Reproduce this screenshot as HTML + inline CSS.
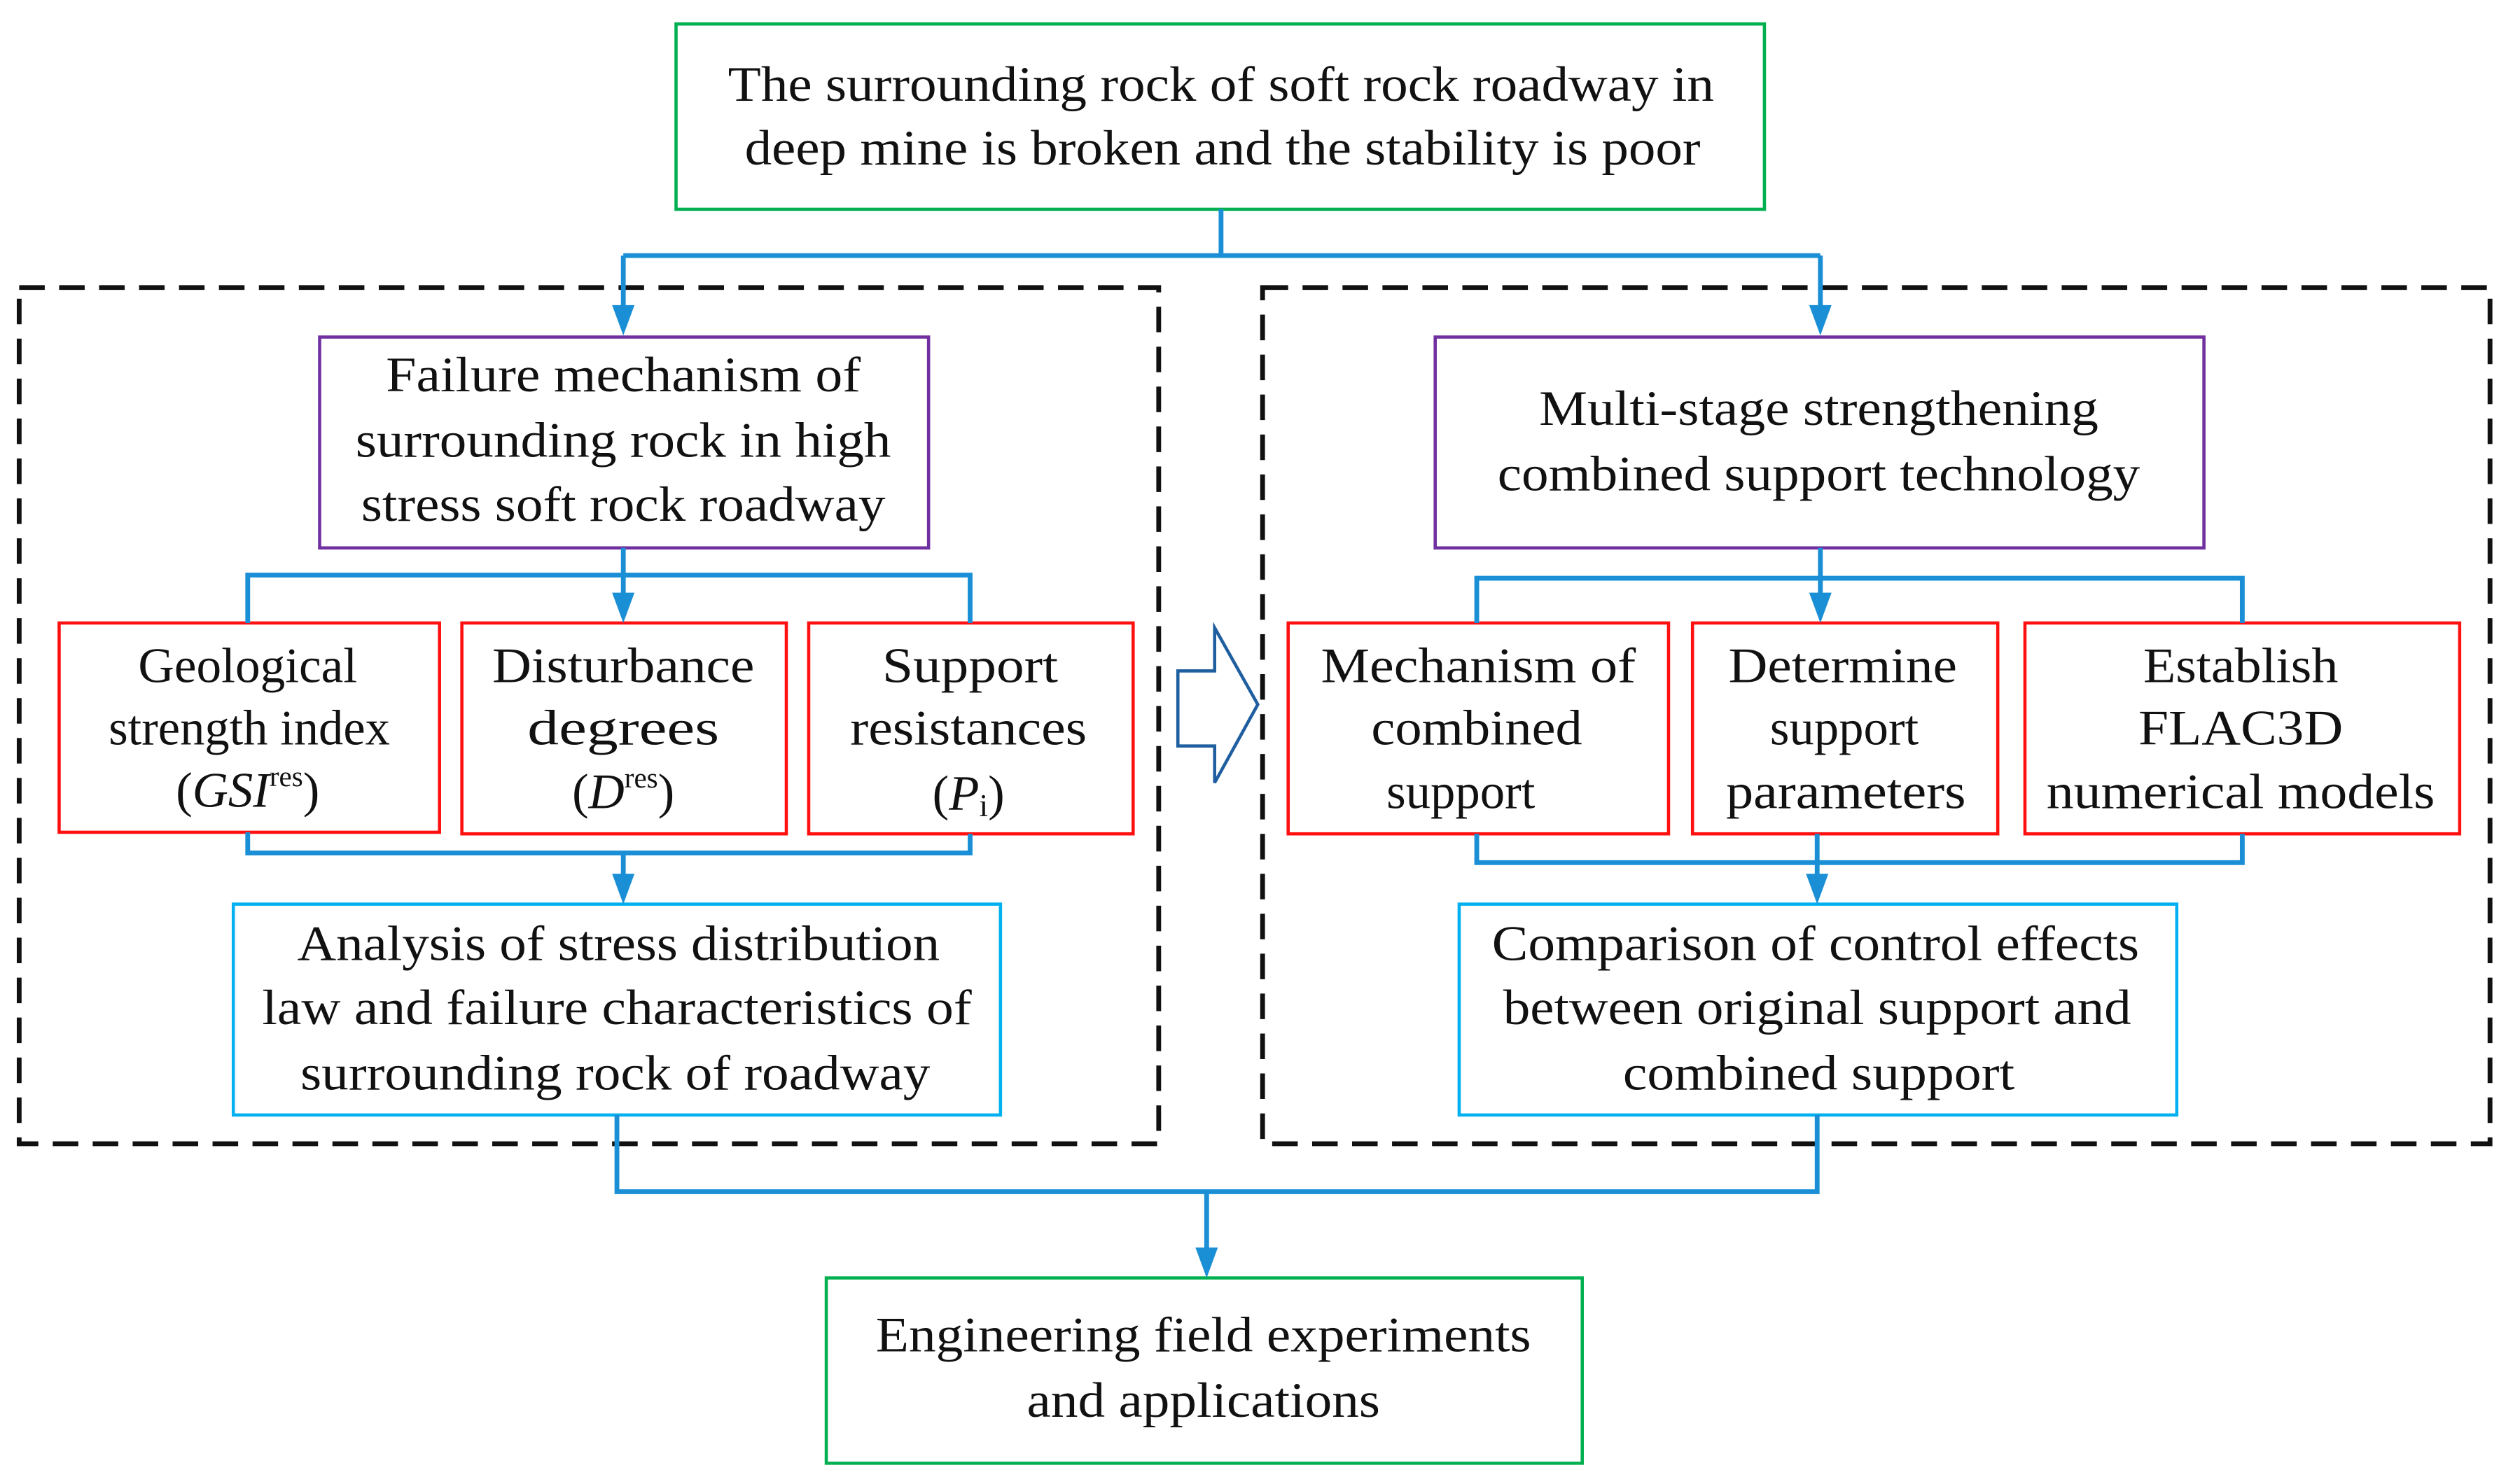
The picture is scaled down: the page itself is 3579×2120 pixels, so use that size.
<!DOCTYPE html>
<html><head><meta charset="utf-8"><style>
html,body{margin:0;padding:0;background:#fff;}
svg{display:block;}
svg text{font-family:"Liberation Serif","Times New Roman",Times,serif;font-size:31px;fill:#111;text-anchor:middle;}
</style></head><body>
<svg width="3579" height="2120" viewBox="0 0 1568 929" preserveAspectRatio="none" xmlns="http://www.w3.org/2000/svg" font-family="Liberation Serif, Times New Roman, serif">
<g fill="none" stroke-width="2">
<rect x="12" y="180" width="713" height="536" stroke="#111" stroke-width="3" stroke-dasharray="16,9"/>
<rect x="790" y="180" width="768" height="536" stroke="#111" stroke-width="3" stroke-dasharray="16,9"/>
<rect x="423" y="15" width="681" height="116" stroke="#00b050"/>
<rect x="200" y="211" width="381" height="132" stroke="#7030a0"/>
<rect x="898" y="211" width="481" height="132" stroke="#7030a0"/>
<rect x="37" y="390" width="238" height="131" stroke="#ff1010"/>
<rect x="289" y="390" width="203" height="132" stroke="#ff1010"/>
<rect x="506" y="390" width="203" height="132" stroke="#ff1010"/>
<rect x="806" y="390" width="238" height="132" stroke="#ff1010"/>
<rect x="1059" y="390" width="191" height="132" stroke="#ff1010"/>
<rect x="1267" y="390" width="272" height="132" stroke="#ff1010"/>
<rect x="146" y="566" width="480" height="132" stroke="#00b0f0"/>
<rect x="913" y="566" width="449" height="132" stroke="#00b0f0"/>
<rect x="517" y="800" width="473" height="116" stroke="#00b050"/>
<g stroke="#1a8fd6" stroke-width="3">
<path d="M764,131 V160 M390,160 H1139"/>
<path d="M390,160 V195"/>
<path d="M1139,160 V195"/>
<path d="M155,390 V360 H607 V390"/>
<path d="M390,343 V375"/>
<path d="M155,521 V534 H607 V522"/>
<path d="M390,534 V551"/>
<path d="M924,390 V362 H1403 V390"/>
<path d="M1139,343 V375"/>
<path d="M924,522 V540 H1403 V522"/>
<path d="M1137,522 V551"/>
<path d="M386,698 V746 H1137 V698"/>
<path d="M755,746 V785"/>
</g>
<path d="M737,420 H760 V393 L787,441 L760,490 V467 H737 Z" stroke="#1f5fa0"/>
</g>
<g fill="#1a8fd6">
<polygon points="383,191 397,191 390,210"/>
<polygon points="1132,191 1146,191 1139,210"/>
<polygon points="383,371 397,371 390,390"/>
<polygon points="1132,371 1146,371 1139,390"/>
<polygon points="383,547 397,547 390,566"/>
<polygon points="1130,547 1144,547 1137,566"/>
<polygon points="748,781 762,781 755,800"/>
</g>
<text x="764" y="63" textLength="617" lengthAdjust="spacingAndGlyphs">The surrounding rock of soft rock roadway in</text>
<text x="765" y="103" textLength="598" lengthAdjust="spacingAndGlyphs">deep mine is broken and the stability is poor</text>
<text x="390" y="245" textLength="297" lengthAdjust="spacingAndGlyphs">Failure mechanism of</text>
<text x="390" y="286" textLength="335" lengthAdjust="spacingAndGlyphs">surrounding rock in high</text>
<text x="390" y="326" textLength="328" lengthAdjust="spacingAndGlyphs">stress soft rock roadway</text>
<text x="1138" y="266" textLength="350" lengthAdjust="spacingAndGlyphs">Multi-stage strengthening</text>
<text x="1138" y="307" textLength="402" lengthAdjust="spacingAndGlyphs">combined support technology</text>
<text x="155" y="427" textLength="137" lengthAdjust="spacingAndGlyphs">Geological</text>
<text x="156" y="466" textLength="176" lengthAdjust="spacingAndGlyphs">strength index</text>
<text x="155" y="505">(<tspan font-style="italic">GSI</tspan><tspan font-size="18" dy="-13">res</tspan><tspan dy="13">)</tspan></text>
<text x="390" y="427" textLength="164" lengthAdjust="spacingAndGlyphs">Disturbance</text>
<text x="390" y="466" textLength="120" lengthAdjust="spacingAndGlyphs">degrees</text>
<text x="390" y="506">(<tspan font-style="italic">D</tspan><tspan font-size="18" dy="-13">res</tspan><tspan dy="13">)</tspan></text>
<text x="607" y="427" textLength="110" lengthAdjust="spacingAndGlyphs">Support</text>
<text x="606" y="466" textLength="148" lengthAdjust="spacingAndGlyphs">resistances</text>
<text x="606" y="507">(<tspan font-style="italic">P</tspan><tspan font-size="20" dy="4">i</tspan><tspan dy="-4">)</tspan></text>
<text x="387" y="601" textLength="402" lengthAdjust="spacingAndGlyphs">Analysis of stress distribution</text>
<text x="386" y="641" textLength="444" lengthAdjust="spacingAndGlyphs">law and failure characteristics of</text>
<text x="385" y="682" textLength="394" lengthAdjust="spacingAndGlyphs">surrounding rock of roadway</text>
<text x="925" y="427" textLength="197" lengthAdjust="spacingAndGlyphs">Mechanism of</text>
<text x="924" y="466" textLength="132" lengthAdjust="spacingAndGlyphs">combined</text>
<text x="914" y="506">support</text>
<text x="1153" y="427" textLength="143" lengthAdjust="spacingAndGlyphs">Determine</text>
<text x="1154" y="466">support</text>
<text x="1155" y="506" textLength="150" lengthAdjust="spacingAndGlyphs">parameters</text>
<text x="1402" y="427" textLength="122" lengthAdjust="spacingAndGlyphs">Establish</text>
<text x="1402" y="466" textLength="128" lengthAdjust="spacingAndGlyphs">FLAC3D</text>
<text x="1402" y="506" textLength="243" lengthAdjust="spacingAndGlyphs">numerical models</text>
<text x="1136" y="601" textLength="405" lengthAdjust="spacingAndGlyphs">Comparison of control effects</text>
<text x="1137" y="641" textLength="393" lengthAdjust="spacingAndGlyphs">between original support and</text>
<text x="1138" y="682" textLength="245" lengthAdjust="spacingAndGlyphs">combined support</text>
<text x="753" y="846" textLength="410" lengthAdjust="spacingAndGlyphs">Engineering field experiments</text>
<text x="753" y="887" textLength="221" lengthAdjust="spacingAndGlyphs">and applications</text>
</svg>
</body></html>
